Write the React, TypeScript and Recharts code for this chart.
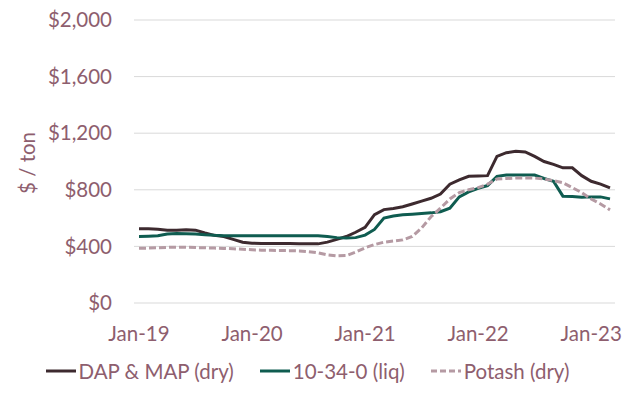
import { LineChart, Line, XAxis, YAxis, CartesianGrid, Legend } from "recharts";

const MONTHS = ["Jan", "Feb", "Mar", "Apr", "May", "Jun", "Jul", "Aug", "Sep", "Oct", "Nov", "Dec"];
const YEARS = ["19", "20", "21", "22", "23"];

// Jan-19 .. Mar-23, monthly
const dapMap = [
  524, 524, 522, 515, 515, 518, 515, 495, 478, 470, 450, 430,
  423, 420, 420, 420, 420, 419, 418, 418, 430, 450, 470, 500,
  535, 625, 660, 668, 680, 700, 720, 740, 770, 840, 870, 895,
  898, 900, 1036, 1062, 1072, 1068, 1036, 1000, 980, 955, 955, 900,
  860, 840, 814,
];
const liq = [
  470, 472, 475, 488, 492, 490, 488, 482, 478, 476, 475, 475,
  475, 475, 475, 475, 475, 475, 475, 475, 470, 462, 460, 462,
  480, 520, 600, 615, 623, 628, 632, 637, 645, 670, 750, 785,
  810, 830, 895, 904, 904, 904, 904, 880, 860, 755, 752, 748,
  750, 750, 736,
];
const potash = [
  387, 388, 390, 393, 394, 394, 392, 390, 388, 386, 383, 380,
  376, 373, 372, 371, 370, 368, 363, 355, 340, 333, 335, 360,
  390, 413, 430, 438, 446, 470, 530, 610, 670, 735, 780, 800,
  815, 840, 876, 880, 883, 883, 883, 876, 865, 850, 815, 780,
  735, 700, 658,
];
const yTicks = [0, 400, 800, 1200, 1600, 2000];

const labels: string[] = [];
YEARS.forEach((y) => MONTHS.forEach((m) => labels.push(`${m}-${y}`)));

const data = dapMap.map((v, i) => ({ month: labels[i], dap: v, liq: liq[i], potash: potash[i] }));

const TEXT = "#8E5E6E";
const FONT = "Lato, 'Open Sans', sans-serif";
const FS = 20.5;

const series = [
  { name: "DAP & MAP (dry)", color: "#3D2A2F", dash: undefined },
  { name: "10-34-0 (liq)", color: "#0F5C50", dash: undefined },
  { name: "Potash (dry)", color: "#B59AA3", dash: "6 3" },
];

function LegendBox() {
  return (
    <div style={{ display: "flex", justifyContent: "center", gap: 26, fontFamily: FONT, fontSize: FS, color: TEXT, marginTop: 2 }}>
      {series.map((s) => (
        <div key={s.name} style={{ display: "flex", alignItems: "center" }}>
          <svg width={30} height={10} style={{ marginRight: 3 }}>
            <line x1={0} y1={5} x2={30} y2={5} stroke={s.color} strokeWidth={3} strokeDasharray={s.dash} />
          </svg>
          <span>{s.name}</span>
        </div>
      ))}
    </div>
  );
}

function YLabel() {
  return (
    <text x={27} y={163} transform="rotate(-90, 27, 163)" textAnchor="middle" dominantBaseline="central"
      fill={TEXT} fontSize={FS} fontFamily={FONT}>
      $ / ton
    </text>
  );
}

export default function App() {
  return (
    <div style={{ position: "absolute", left: 0, top: 0, background: "#fff" }}>
      <LineChart width={627} height={397} data={data} margin={{ top: 20, right: 12, left: 0, bottom: 10 }}>
        <CartesianGrid vertical={false} stroke="#D9D9D9" strokeWidth={1} />
        <XAxis dataKey="month" interval={11} axisLine={false} tickLine={false} tickSize={0} tickMargin={23}
          height={54} padding={{ left: 5, right: 5 }}
          tick={{ fontSize: FS, fill: TEXT, fontFamily: FONT }} />
        <YAxis width={134} domain={[0, 2000]} ticks={yTicks} axisLine={false} tickLine={false} tickSize={0} tickMargin={22}
          tickFormatter={(v) => `$${Number(v).toLocaleString("en-US")}`}
          tick={{ fontSize: FS, fill: TEXT, fontFamily: FONT }}
          label={<YLabel />} />
        <Legend verticalAlign="bottom" height={30} content={() => <LegendBox />} />
        <Line dataKey="dap" name={series[0].name} stroke={series[0].color} strokeWidth={3} dot={false} isAnimationActive={false} />
        <Line dataKey="liq" name={series[1].name} stroke={series[1].color} strokeWidth={3} dot={false} isAnimationActive={false} />
        <Line dataKey="potash" name={series[2].name} stroke={series[2].color} strokeWidth={3} strokeDasharray="7 3" dot={false} isAnimationActive={false} />
      </LineChart>
    </div>
  );
}
